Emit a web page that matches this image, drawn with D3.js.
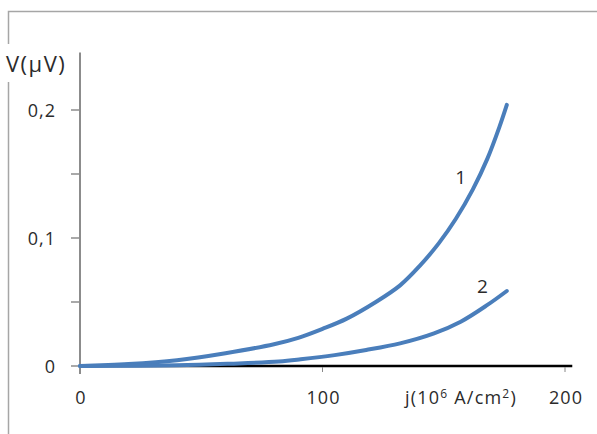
<!DOCTYPE html>
<meta charset="utf-8">
<style>
  body { margin: 0; background: #fff; }
  text { font-family: "Open Sans", "Liberation Sans", sans-serif; fill: #2b2b2b; }
</style>
<body>
<div id="chart"></div>
<script src="https://d3js.org/d3.v7.min.js"></script>
<script>
// curve 1: j (10^6 A/cm^2) and V (µV)
var j1 = [0, 20, 40, 60, 80, 90, 100, 110, 122, 132, 140, 148, 155, 162, 168, 173, 176];
var v1 = [0, 0.0015, 0.0045, 0.010, 0.017, 0.022, 0.029, 0.037, 0.050, 0.063, 0.078, 0.096, 0.115, 0.138, 0.162, 0.187, 0.204];
// curve 2
var j2 = [0, 40, 62, 82, 91, 105, 118, 132, 146, 157, 168, 176];
var v2 = [0, 0.0005, 0.0018, 0.0035, 0.0052, 0.0085, 0.0125, 0.0177, 0.0255, 0.0346, 0.0477, 0.0586];

var curveNames = ["1", "2"];
var xTicks = [0, 100, 200];
var yTicks = [0, 0.05, 0.1, 0.15, 0.2];
var yLabels = {0: "0", 0.1: "0,1", 0.2: "0,2"};

var width = 597, height = 434;
var svg = d3.select("#chart").append("svg")
  .attr("width", width)
  .attr("height", height);

var x = d3.scaleLinear().domain([0, 200]).range([80, 565]);
var y = d3.scaleLinear().domain([0, 0.2]).range([366, 110]);

// outer frame (top + left only visible)
svg.append("path")
  .attr("d", "M8.5," + height + "V11.5H" + width)
  .attr("fill", "none")
  .attr("stroke", "#a6a6a6")
  .attr("stroke-width", 1.5);

// x axis line
svg.append("line")
  .attr("x1", x(0)).attr("x2", x(203))
  .attr("y1", y(0)).attr("y2", y(0))
  .attr("stroke", "#000")
  .attr("stroke-width", 2.5);

svg.selectAll(".xtick")
  .data(xTicks.slice(1))
  .enter().append("line")
  .attr("x1", function(d) { return x(d); })
  .attr("x2", function(d) { return x(d); })
  .attr("y1", y(0) + 1)
  .attr("y2", y(0) + 6)
  .attr("stroke", "#888")
  .attr("stroke-width", 1);

svg.selectAll(".xlab")
  .data(xTicks)
  .enter().append("text")
  .attr("x", function(d) { return x(d) + 1; })
  .attr("y", 404)
  .attr("text-anchor", "middle")
  .style("font-size", "18px")
  .style("letter-spacing", "1px")
  .text(function(d) { return d; });

// y axis
svg.append("line")
  .attr("x1", x(0)).attr("x2", x(0))
  .attr("y1", y(0) + 8).attr("y2", y(0.245))
  .attr("stroke", "#8c8c8c")
  .attr("stroke-width", 2);

svg.selectAll(".ytick")
  .data(yTicks)
  .enter().append("line")
  .attr("x1", x(0) - 9)
  .attr("x2", x(0))
  .attr("y1", function(d) { return y(d); })
  .attr("y2", function(d) { return y(d); })
  .attr("stroke", "#8c8c8c")
  .attr("stroke-width", 1.5);

svg.selectAll(".ylab")
  .data(yTicks.filter(function(d) { return yLabels[d] !== undefined; }))
  .enter().append("text")
  .attr("x", 56)
  .attr("y", function(d) { return y(d) + 7; })
  .attr("text-anchor", "end")
  .style("font-size", "18px")
  .style("letter-spacing", "1px")
  .text(function(d) { return yLabels[d]; });

// y title with white box over the frame
svg.append("rect")
  .attr("x", 0).attr("y", 44)
  .attr("width", 76).attr("height", 38)
  .attr("fill", "#fff");
svg.append("text")
  .attr("x", 6)
  .attr("y", 72)
  .style("font-size", "22px")
  .style("letter-spacing", "1.5px")
  .text("V(µV)");

// x title
var xt = svg.append("text")
  .attr("x", 461)
  .attr("y", 404)
  .attr("text-anchor", "middle")
  .style("font-size", "18px")
  .style("letter-spacing", "1.2px");
xt.append("tspan").text("j(10");
xt.append("tspan").attr("dy", -6).style("font-size", "12px").text("6");
xt.append("tspan").attr("dy", 6).text(" A/cm");
xt.append("tspan").attr("dy", -6).style("font-size", "12px").text("2");
xt.append("tspan").attr("dy", 6).text(")");

// curves
var line = d3.line()
  .x(function(d) { return x(d[0]); })
  .y(function(d) { return y(d[1]); })
  .curve(d3.curveCatmullRom.alpha(0.5));

var series = [d3.zip(j1, v1), d3.zip(j2, v2)];

svg.selectAll(".curve")
  .data(series)
  .enter().append("path")
  .attr("class", "curve")
  .attr("d", line)
  .attr("fill", "none")
  .attr("stroke", "#4a7ebb")
  .attr("stroke-width", 4)
  .attr("stroke-linecap", "round");

// curve labels near the upper ends
svg.selectAll(".clab")
  .data(series)
  .enter().append("text")
  .attr("x", function(d, i) { return i === 0 ? x(157) : x(166); })
  .attr("y", function(d, i) { return i === 0 ? y(0.142) : y(0.057); })
  .attr("text-anchor", "middle")
  .style("font-size", "19px")
  .text(function(d, i) { return curveNames[i]; });
</script>
</body>
</html>
